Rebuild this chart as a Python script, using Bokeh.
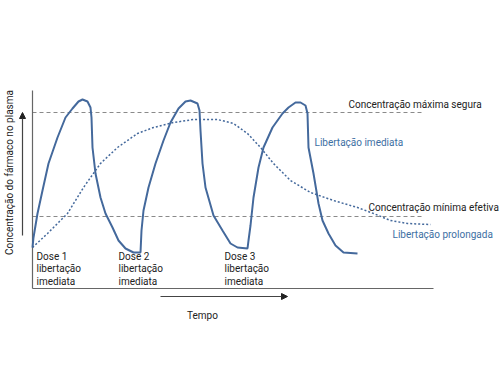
from bokeh.plotting import figure
from bokeh.models import Range1d, Arrow, NormalHead
from bokeh.core.properties import value
from bokeh.embed import file_html
from bokeh.resources import INLINE

# Immediate release (three doses): time, concentration
imm_t = [0,1,5,10,16,25,33,40,46,50,55,58,59,60,63,68,73,80,86,93,101,108,
         109,111,116,123,131,138,146,153,158,165,167,168,170,173,181,190,198,205,215,
         216,218,221,226,231,240,250,256,263,268,273,275,276,281,286,290,296,303,311,325]
imm_c = [41,51,75,98,125,151,171,180,187,189,187,181,171,141,115,91,75,61,48,40,36,36,
         58,78,101,125,148,166,180,187,188,185,178,158,125,101,73,58,45,41,40,
         48,63,91,121,141,161,175,181,186,186,183,175,141,115,85,68,55,43,36,35]
# Prolonged release
pro_t = [0,15,35,51,68,85,105,121,141,161,185,201,215,228,241,258,278,301,325,341,358,375,398]
pro_c = [41,55,75,101,125,141,155,161,166,169,169,165,155,141,125,108,96,88,81,75,68,65,64]

max_safe = 176
min_eff = 72
dose_t = [4, 86, 192]
dose_labels = ["Dose 1", "Dose 2", "Dose 3"]

BLUE = "#44699c"
BLUE_TXT = "#3d6fa3"
GRAY = "#8a8a8a"
FONT = "Roboto"

p = figure(width=500, height=388, x_range=Range1d(-32, 468), y_range=Range1d(-100, 288),
           output_backend="svg", toolbar_location=None, min_border=0)
p.axis.visible = False
p.grid.visible = False
p.outline_line_color = None
p.background_fill_color = "white"

# reference lines
p.line([0, 391], [max_safe, max_safe], line_color=GRAY, line_dash="4 3", line_width=1.2)
p.line([0, 391], [min_eff, min_eff], line_color=GRAY, line_dash="4 3", line_width=1.2)

# axes
p.line([0, 0], [0, 198], line_color="#666666", line_width=1.2)
p.line([0, 401], [0, 0], line_color="#666666", line_width=1.2)

# curves
p.line(pro_t, pro_c, line_color=BLUE, line_width=1.5, line_dash="2 2")
p.line(imm_t, imm_c, line_color=BLUE, line_width=2)

# arrows
p.add_layout(Arrow(end=NormalHead(size=6, fill_color="#222222", line_color="#222222"),
                   x_start=-10, y_start=53, x_end=-10, y_end=176,
                   line_color="#444444", line_width=1.2))
p.add_layout(Arrow(end=NormalHead(size=6, fill_color="#222222", line_color="#222222"),
                   x_start=128, y_start=-8, x_end=255, y_end=-8,
                   line_color="#444444", line_width=1.2))

tf = value(FONT)
p.text(x=[170], y=[-27], text=["Tempo"], text_font=tf, text_font_size="10px",
       text_align="center", text_baseline="middle", text_color="#222222")
p.text(x=[-23], y=[116], text=["Concentração do fármaco no plasma"], text_font=tf,
       text_font_size="10px", text_align="center", text_baseline="middle",
       angle=1.5708, text_color="#222222")
p.text(x=[316], y=[184], text=["Concentração máxima segura"], text_font=tf, text_font_size="10px",
       text_align="left", text_baseline="middle", text_color="#222222")
p.text(x=[336], y=[81], text=["Concentração mínima efetiva"], text_font=tf, text_font_size="10px",
       text_align="left", text_baseline="middle", text_color="#222222")
p.text(x=[282], y=[146], text=["Libertação imediata"], text_font=tf, text_font_size="10px",
       text_align="left", text_baseline="middle", text_color=BLUE_TXT)
p.text(x=[360], y=[54], text=["Libertação prolongada"], text_font=tf, text_font_size="10px",
       text_align="left", text_baseline="middle", text_color=BLUE_TXT)

for t, lab in zip(dose_t, dose_labels):
    p.text(x=[t, t, t], y=[32, 20, 7], text=[lab, "libertação", "imediata"], text_font=tf,
           text_font_size="10px", text_align="left", text_baseline="middle", text_color="#222222")

open("out.html", "w").write(file_html(p, INLINE))
